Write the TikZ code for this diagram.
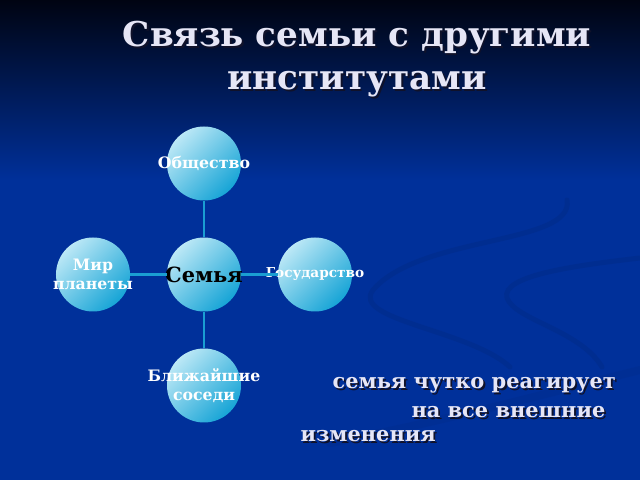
\documentclass[tikz,border=0pt]{standalone}
\usepackage{fontspec}
\setmainfont{DejaVu Serif}
\usetikzlibrary{positioning}

\definecolor{bgtop}{HTML}{000412}
\definecolor{bgblue}{HTML}{00309A}
\definecolor{ballhi}{HTML}{BCE8F6}
\definecolor{balllo}{HTML}{16A4D6}
\definecolor{linkc}{HTML}{1A9ED2}
\definecolor{titlec}{HTML}{E6E6F6}
\definecolor{shadowc}{HTML}{10122A}
\definecolor{swirlc}{HTML}{00287F}

\begin{document}
\begin{tikzpicture}[x=1bp, y=1bp, node distance = {111bp},
    main/.style = {circle, minimum size=74bp, inner sep=0pt, top color=ballhi, bottom color=balllo, shading angle=45},
    lbl/.style = {text=white, font=\bfseries\fontsize{15.8}{18.5}\selectfont, align=center},
    link/.style = {draw=linkc, line width=2.8bp},
    swirl/.style = {draw=swirlc, line width=5bp, line cap=round, opacity=0.35},
    title/.style = {text=titlec, font=\bfseries\fontsize{34.3}{40}\selectfont, anchor=base},
    note/.style = {text=titlec, font=\bfseries\fontsize{21}{24}\selectfont, anchor=base west},
    shadow/.style = {text=shadowc, xshift=1.8bp, yshift=-1.8bp}]

  % background
  \useasboundingbox (0,0) rectangle (640,480);
  \fill[bgblue] (0,0) rectangle (640,300);
  \shade[top color=bgtop, bottom color=bgblue] (0,300) rectangle (640,480);
  \draw[swirl] (567,280) .. controls (575,235) and (420,245) .. (373,190) .. controls (350,160) and (470,150) .. (510,113);
  \draw[swirl] (640,222) .. controls (580,215) and (500,205) .. (507,182) .. controls (515,160) and (580,150) .. (602,113);
  \draw[swirl, line width=8bp, opacity=0.2] (330,37) .. controls (450,60) and (560,90) .. (640,110);

  % title
  \node[title, shadow] (ts1) at (357,433) {Связь семьи с другими};
  \node[title] (t1) at (357,433) {Связь семьи с другими};
  \node[title, shadow] (ts2) at (357,390) {институтами};
  \node[title] (t2) at (357,390) {институтами};

  % circles
  \node[main, label={[lbl, text=black, font=\bfseries\fontsize{21}{24}\selectfont]center:Семья}] (fam) at (204,205.5) {};
  \node[main, label={[lbl]center:Общество}] (soc) [above of=fam] {};
  \node[main, label={[lbl, font=\bfseries\fontsize{13.7}{16}\selectfont]center:Государство}] (state) [right of=fam] {};
  \node[main, label={[lbl]center:{Мир\\планеты}}] (world) [left of=fam] {};
  \node[main, label={[lbl]center:{Ближайшие\\соседи}}] (near) [below of=fam] {};

  \draw[link] (fam) -- (soc);
  \draw[link] (fam) -- (state);
  \draw[link] (fam) -- (world);
  \draw[link] (fam) -- (near);

  % note
  \node[note, shadow] (ns1) at (329,91) {семья чутко реагирует};
  \node[note] (n1) at (329,91) {семья чутко реагирует};
  \node[note, shadow] (ns2) at (408,62) {на все внешние};
  \node[note] (n2) at (408,62) {на все внешние};
  \node[note, shadow] (ns3) at (297,38) {изменения};
  \node[note] (n3) at (297,38) {изменения};
\end{tikzpicture}
\end{document}
